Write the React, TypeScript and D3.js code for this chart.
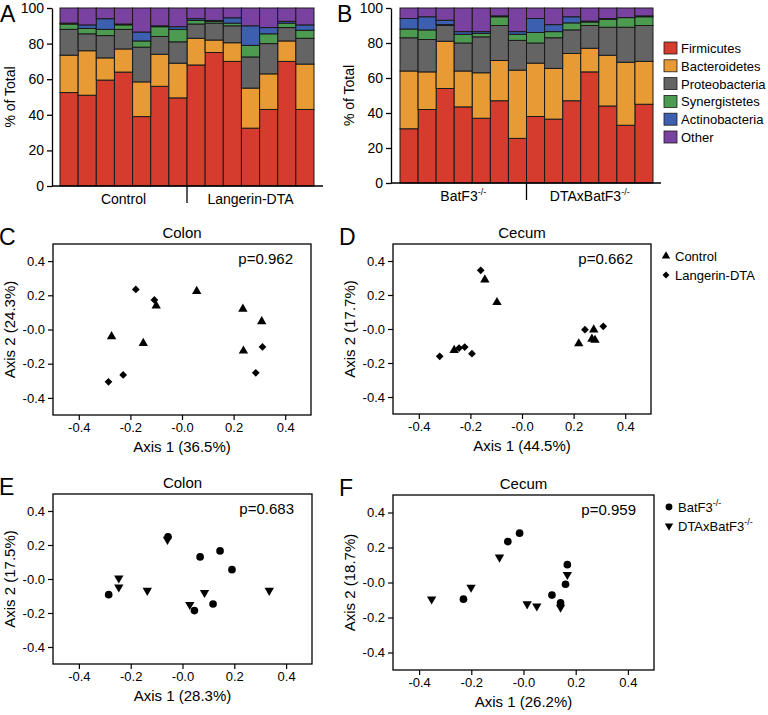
import React, { useRef, useEffect } from 'react';
import * as d3 from 'd3';

const FONT = 'Arial, "Liberation Sans", Helvetica, sans-serif';

// stacked bars: percent of total per phylum, one value per mouse
const phyla = ['Firmicutes', 'Bacteroidetes', 'Proteobacteria', 'Synergistetes', 'Actinobacteria', 'Other'];
const phylaColors = ['#d63c2d', '#e89a34', '#646464', '#4c9b50', '#3d5fb0', '#7a42a0'];

const groupsA = ['Control', 'Langerin-DTA'];
const firmicutesA = [52.5, 51, 59.5, 64, 39, 56, 49.5, 68, 75, 70, 32.5, 43, 70, 43];
const bacteroidetesA = [21, 25, 12.5, 13, 19.5, 18, 19.5, 15, 7, 10.5, 22.5, 20, 11.5, 25.5];
const proteobacteriaA = [14.5, 9.5, 12.5, 11, 19.5, 10, 12, 8, 9.5, 9.5, 17.5, 17, 7.5, 14.5];
const synergistetesA = [3, 3, 3.5, 2.5, 3.5, 5.5, 7, 2, 1, 1.5, 6.5, 5.5, 2.5, 4.5];
const actinobacteriaA = [0.5, 2, 6, 0.5, 5, 0.5, 1.5, 1, 0.5, 3, 11, 3.5, 1, 3];
const otherA = [8.5, 9.5, 6, 9, 13.5, 10, 10.5, 6, 7, 5.5, 10, 11, 7.5, 9.5];

const groupsB = ['BatF3', 'DTAxBatF3'];
const firmicutesB = [31, 42, 54, 43.5, 37, 47, 25.5, 38, 36.5, 47, 63.5, 44, 33, 45];
const bacteroidetesB = [33, 21.5, 27, 20.5, 26, 23, 39, 30.5, 29, 27, 13.5, 29, 36, 24.5];
const proteobacteriaB = [19, 18.5, 9, 16, 20.5, 20, 17, 11.5, 17.5, 13.5, 13, 16, 20, 20.5];
const synergistetesB = [5, 5.5, 0.5, 5, 2, 5, 3.5, 6, 3.5, 4, 2, 4.5, 5.5, 5];
const actinobacteriaB = [6, 7.5, 2.5, 1.5, 1, 0.5, 1.5, 8, 4, 3.5, 0.5, 0.5, 0, 0.5];
const otherB = [6, 5, 7, 13.5, 13.5, 4.5, 13.5, 6, 9.5, 5, 7.5, 6, 5.5, 4.5];

// PCoA scores [axis1, axis2]
const colonControl = [[0.057, 0.224], [-0.1, 0.139], [-0.273, -0.041], [-0.15, -0.08], [0.236, 0.12], [0.309, 0.047], [0.238, -0.125]];
const colonLangerin = [[-0.179, 0.234], [-0.107, 0.173], [0.312, -0.102], [-0.228, -0.266], [-0.285, -0.306], [0.286, -0.253]];
const cecumControl = [[-0.144, 0.29], [-0.097, 0.157], [-0.263, -0.125], [0.22, -0.086], [0.278, -0.004], [0.271, -0.059], [0.283, -0.065]];
const cecumLangerin = [[-0.16, 0.345], [-0.319, -0.161], [-0.244, -0.112], [-0.222, -0.106], [-0.194, -0.145], [0.244, -0.004], [0.315, 0.016]];
const colonBatf3 = [[-0.056, 0.248], [0.068, 0.13], [0.145, 0.165], [0.191, 0.055], [-0.285, -0.092], [0.046, -0.186], [0.118, -0.147]];
const colonDtaBatf3 = [[-0.058, 0.232], [-0.246, 0.005], [-0.246, -0.048], [-0.136, -0.068], [0.085, -0.08], [0.028, -0.151], [0.335, -0.068]];
const cecumBatf3 = [[-0.06, 0.234], [-0.015, 0.282], [0.168, 0.102], [0.161, -0.01], [0.109, -0.072], [0.142, -0.116], [-0.23, -0.095]];
const cecumDtaBatf3 = [[-0.352, -0.095], [-0.201, -0.028], [-0.092, 0.144], [0.014, -0.123], [0.051, -0.135], [0.142, -0.142], [0.168, 0.045]];

const pcoTicks = [-0.4, -0.2, 0, 0.2, 0.4];
const pctTicks = [0, 20, 40, 60, 80, 100];

const fmtPco = (v) => (v === 0 ? '-0.0' : v.toFixed(1));

const shapes = {
  triangle: { type: d3.symbolTriangle, size: 38, rotate: 0 },
  diamond: { type: d3.symbolSquare, size: 30, rotate: 45 },
  circle: { type: d3.symbolCircle, size: 46, rotate: 0 },
  down: { type: d3.symbolTriangle, size: 38, rotate: 180 },
};

const addLabel = (g, text, sup) => {
  g.append('tspan').text(text);
  if (sup) g.append('tspan').attr('font-size', 9).attr('dy', -6).text(sup);
};

function drawBars(svg, cfg) {
  const { series, left, right, top, bottom, axisX, axisEnd, groups, sup, letter, letterX } = cfg;
  const g = svg.append('g').attr('font-family', FONT);
  const rows = series[0].map((_, i) => Object.fromEntries(phyla.map((p, k) => [p, series[k][i]])));
  const layers = d3.stack().keys(phyla)(rows);
  const x = d3.scaleBand().domain(d3.range(rows.length)).range([left, right]).padding(0);
  const y = d3.scaleLinear().domain([0, 100]).range([bottom, top]);

  layers.forEach((layer, k) => {
    g.append('g')
      .selectAll('rect')
      .data(layer)
      .join('rect')
      .attr('x', (d, i) => x(i))
      .attr('width', x.bandwidth())
      .attr('y', (d) => y(d[1]))
      .attr('height', (d) => y(d[0]) - y(d[1]))
      .attr('fill', phylaColors[k])
      .attr('stroke', '#1a1a1a')
      .attr('stroke-width', 1);
  });

  const yAxis = g.append('g')
    .attr('transform', `translate(${axisX},0)`)
    .call(d3.axisLeft(y).tickValues(pctTicks).tickSize(5).tickSizeOuter(0).tickPadding(3));
  yAxis.attr('font-family', FONT).attr('font-size', 14);
  yAxis.selectAll('path,line').attr('stroke', '#000').attr('stroke-width', 1.3);
  yAxis.selectAll('text').attr('fill', '#000');

  g.append('line').attr('x1', axisX).attr('x2', axisEnd).attr('y1', bottom).attr('y2', bottom)
    .attr('stroke', '#000').attr('stroke-width', 1.3);

  const half = rows.length / 2;
  const split = x(half);
  g.append('line').attr('x1', split).attr('x2', split).attr('y1', bottom).attr('y2', bottom + 17)
    .attr('stroke', '#000').attr('stroke-width', 1.3);

  groups.forEach((name, i) => {
    const cx = i === 0 ? (left + split) / 2 : (split + right) / 2;
    const t = g.append('text').attr('x', cx).attr('y', bottom + 18).attr('text-anchor', 'middle')
      .attr('font-size', 14);
    addLabel(t, name, sup);
  });

  g.append('text')
    .attr('transform', `translate(${axisX - 37},${(top + bottom) / 2}) rotate(-90)`)
    .attr('text-anchor', 'middle').attr('font-size', 14).text('% of Total');

  g.append('text').attr('x', letterX).attr('y', top + 14).attr('font-size', 23).text(letter);
}

function drawScatter(svg, cfg) {
  const { left, right, top, bottom, letter, title, p, xLabel, yLabel, series, legend } = cfg;
  const g = svg.append('g').attr('font-family', FONT);
  const x = d3.scaleLinear().domain([-0.5, 0.5]).range([left, right]);
  const y = d3.scaleLinear().domain([-0.5, 0.5]).range([bottom, top]);

  const yAxis = g.append('g').attr('transform', `translate(${left},0)`)
    .call(d3.axisLeft(y).tickValues(pcoTicks).tickFormat(fmtPco).tickSize(5).tickSizeOuter(0).tickPadding(3));
  const xAxis = g.append('g').attr('transform', `translate(0,${bottom})`)
    .call(d3.axisBottom(x).tickValues(pcoTicks).tickFormat(fmtPco).tickSize(5).tickSizeOuter(0).tickPadding(3));
  [yAxis, xAxis].forEach((ax) => {
    ax.attr('font-family', FONT).attr('font-size', 13);
    ax.select('.domain').remove();
    ax.selectAll('line').attr('stroke', '#000').attr('stroke-width', 1.2);
    ax.selectAll('text').attr('fill', '#000');
  });

  g.append('rect').attr('x', left).attr('y', top).attr('width', right - left).attr('height', bottom - top)
    .attr('fill', 'none').attr('stroke', '#000').attr('stroke-width', 1.3);

  series.forEach((s) => {
    const sh = shapes[s.shape];
    const sym = d3.symbol().type(sh.type).size(sh.size);
    g.append('g').selectAll('path').data(s.points).join('path')
      .attr('d', sym)
      .attr('transform', (d) => `translate(${x(d[0])},${y(d[1])}) rotate(${sh.rotate})`)
      .attr('fill', '#000');
  });

  g.append('text').attr('x', (left + right) / 2).attr('y', top - 6).attr('text-anchor', 'middle')
    .attr('font-size', 15).text(title);
  g.append('text').attr('x', right - 18).attr('y', top + 20).attr('text-anchor', 'end')
    .attr('font-size', 15).text(p);
  g.append('text').attr('x', (left + right) / 2).attr('y', bottom + 37).attr('text-anchor', 'middle')
    .attr('font-size', 15).text(xLabel);
  g.append('text')
    .attr('transform', `translate(${left - 38},${(top + bottom) / 2}) rotate(-90)`)
    .attr('text-anchor', 'middle').attr('font-size', 15).text(yLabel);
  g.append('text').attr('x', left - 54).attr('y', top + 1).attr('font-size', 23).text(letter);

  if (legend) {
    legend.forEach((item, i) => {
      const ly = top + 12 + i * 19;
      const sh = shapes[item.shape];
      g.append('path').attr('d', d3.symbol().type(sh.type).size(sh.size * 0.8))
        .attr('transform', `translate(${right + 15},${ly}) rotate(${sh.rotate})`).attr('fill', '#000');
      const t = g.append('text').attr('x', right + 24).attr('y', ly + 5).attr('font-size', 13);
      addLabel(t, item.label, item.sup);
    });
  }
}

const App = () => {
  const svgRef = useRef(null);

  useEffect(() => {
    const svg = d3.select(svgRef.current);
    svg.selectAll('*').remove();

    drawBars(svg, {
      series: [firmicutesA, bacteroidetesA, proteobacteriaA, synergistetesA, actinobacteriaA, otherA],
      left: 60, right: 314, top: 8, bottom: 186, axisX: 52, axisEnd: 323,
      groups: groupsA, sup: null, letter: 'A', letterX: 0,
    });
    drawBars(svg, {
      series: [firmicutesB, bacteroidetesB, proteobacteriaB, synergistetesB, actinobacteriaB, otherB],
      left: 400, right: 653, top: 8, bottom: 183, axisX: 391, axisEnd: 661,
      groups: groupsB, sup: '-/-', letter: 'B', letterX: 337,
    });

    // phylum legend
    const lg = svg.append('g').attr('font-family', FONT);
    phyla.forEach((name, i) => {
      const ly = 48 + i * 17.8;
      lg.append('rect').attr('x', 664).attr('y', ly - 6).attr('width', 13).attr('height', 12)
        .attr('fill', phylaColors[i]).attr('stroke', '#1a1a1a').attr('stroke-width', 0.8);
      lg.append('text').attr('x', 681).attr('y', ly + 5).attr('font-size', 13).text(name);
    });

    drawScatter(svg, {
      left: 53, right: 311, top: 244, bottom: 415, letter: 'C', title: 'Colon', p: 'p=0.962',
      xLabel: 'Axis 1 (36.5%)', yLabel: 'Axis 2 (24.3%)',
      series: [{ points: colonControl, shape: 'triangle' }, { points: colonLangerin, shape: 'diamond' }],
    });
    drawScatter(svg, {
      left: 393, right: 651, top: 244, bottom: 414, letter: 'D', title: 'Cecum', p: 'p=0.662',
      xLabel: 'Axis 1 (44.5%)', yLabel: 'Axis 2 (17.7%)',
      series: [{ points: cecumControl, shape: 'triangle' }, { points: cecumLangerin, shape: 'diamond' }],
      legend: [{ shape: 'triangle', label: 'Control' }, { shape: 'diamond', label: 'Langerin-DTA' }],
    });
    drawScatter(svg, {
      left: 53, right: 312, top: 494, bottom: 664, letter: 'E', title: 'Colon', p: 'p=0.683',
      xLabel: 'Axis 1 (28.3%)', yLabel: 'Axis 2 (17.5%)',
      series: [{ points: colonBatf3, shape: 'circle' }, { points: colonDtaBatf3, shape: 'down' }],
    });
    drawScatter(svg, {
      left: 393, right: 654, top: 495, bottom: 670, letter: 'F', title: 'Cecum', p: 'p=0.959',
      xLabel: 'Axis 1 (26.2%)', yLabel: 'Axis 2 (18.7%)',
      series: [{ points: cecumBatf3, shape: 'circle' }, { points: cecumDtaBatf3, shape: 'down' }],
      legend: [{ shape: 'circle', label: 'BatF3', sup: '-/-' }, { shape: 'down', label: 'DTAxBatF3', sup: '-/-' }],
    });
  }, []);

  return (
    <div style={{ position: 'absolute', left: 0, top: 0 }}>
      <svg ref={svgRef} width={768} height={715} style={{ display: 'block', background: '#fff' }} />
    </div>
  );
};

export default App;
